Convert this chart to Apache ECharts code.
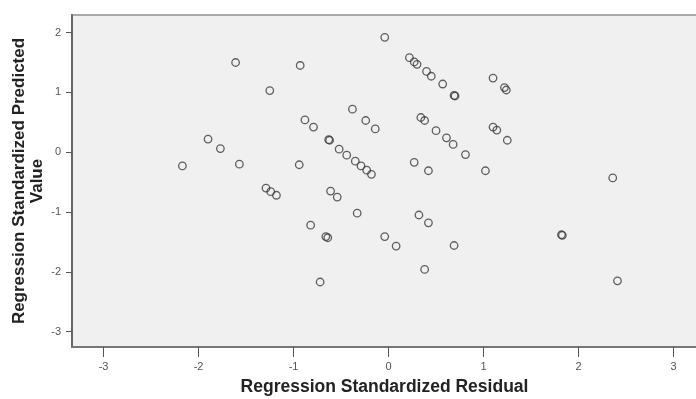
<!DOCTYPE html>
<html>
<head>
<meta charset="utf-8">
<script src="https://cdn.jsdelivr.net/npm/echarts@6/dist/echarts.min.js"></script>
<style>
html,body{margin:0;padding:0;background:#fff;}
#chart{width:696px;height:399px;}
</style>
</head>
<body>
<div id="chart"></div>
<script>
var residuals = [-0.04, -1.61, -0.93, 0.22, 0.27, 0.30, 0.40, 0.45, 0.57, 0.69, 0.70, 1.10, 1.22, 1.24, -1.25, -0.38, -0.88, -0.79, -0.24, -0.14, 0.34, 0.38, 0.50, 0.61, 0.68, 0.81, 1.10, 1.14, 1.25, -1.90, -1.77, -0.63, -0.62, -0.52, -0.44, -0.35, -0.29, -0.23, -0.18, -2.17, -1.57, -0.94, 0.27, 0.42, 1.02, 2.36, -1.29, -1.24, -1.18, -0.61, -0.54, -0.33, 0.32, 0.42, -0.82, -0.66, -0.64, -0.04, 0.08, 0.69, 1.82, 1.83, -0.72, 0.38, 2.41];
var predicted = [1.92, 1.50, 1.45, 1.58, 1.51, 1.47, 1.35, 1.27, 1.14, 0.95, 0.94, 1.24, 1.08, 1.04, 1.03, 0.72, 0.54, 0.42, 0.53, 0.39, 0.58, 0.53, 0.36, 0.24, 0.13, -0.04, 0.42, 0.37, 0.20, 0.22, 0.06, 0.21, 0.20, 0.05, -0.05, -0.15, -0.23, -0.30, -0.37, -0.23, -0.20, -0.21, -0.17, -0.31, -0.31, -0.43, -0.60, -0.66, -0.72, -0.65, -0.75, -1.02, -1.05, -1.18, -1.22, -1.41, -1.43, -1.41, -1.57, -1.56, -1.38, -1.39, -2.17, -1.96, -2.15];
var xTicks = [-3, -2, -1, 0, 1, 2, 3];
var yTicks = [-3, -2, -1, 0, 1, 2];
var xTitle = 'Regression Standardized Residual';
var yTitle = 'Regression Standardized Predicted\nValue';

var points = residuals.map(function (x, i) { return [x, predicted[i]]; });

var chart = echarts.init(document.getElementById('chart'), null, {renderer: 'canvas'});
chart.setOption({
  animation: false,
  backgroundColor: '#ffffff',
  textStyle: {fontFamily: 'Liberation Sans, Arial, sans-serif'},
  grid: {
    left: 72, top: 15, width: 625, height: 332,
    containLabel: false, outerBoundsMode: 'none',
    show: true, backgroundColor: '#f0f0f0', borderColor: '#a8a8a8', borderWidth: 2
  },
  xAxis: {
    type: 'value', min: -3.332, max: 3.247,
    splitLine: {show: false},
    axisLine: {show: true, onZero: false, lineStyle: {color: '#777', width: 2}},
    axisTick: {show: true, customValues: xTicks, length: 10, lineStyle: {color: '#555', width: 1}},
    axisLabel: {customValues: xTicks, margin: 14, color: '#555', fontSize: 11,
      formatter: function (v) { return String(v); }},
    name: xTitle, nameLocation: 'middle', nameGap: 31, nameMoveOverlap: false,
    nameTextStyle: {fontSize: 17.5, fontWeight: 'bold', color: '#222', fontFamily: 'Liberation Sans, Arial, sans-serif'}
  },
  yAxis: {
    type: 'value', min: -3.257, max: 2.294,
    splitLine: {show: false},
    axisLine: {show: true, onZero: false, lineStyle: {color: '#666', width: 2}},
    axisTick: {show: true, customValues: yTicks, length: 6, lineStyle: {color: '#555', width: 1}},
    axisLabel: {customValues: yTicks, margin: 11, color: '#555', fontSize: 11,
      formatter: function (v) { return String(v); }},
    name: yTitle, nameLocation: 'middle', nameGap: 26, nameRotate: 90, nameMoveOverlap: false,
    nameTextStyle: {fontSize: 17, fontWeight: 'bold', color: '#222', lineHeight: 18, align: 'center',
      fontFamily: 'Liberation Sans, Arial, sans-serif'}
  },
  series: [{
    type: 'scatter',
    data: points,
    symbol: 'circle',
    symbolSize: 7.5,
    itemStyle: {color: 'rgba(0,0,0,0)', borderColor: '#3a3a3a', borderWidth: 1.3}
  }]
});
</script>
</body>
</html>
